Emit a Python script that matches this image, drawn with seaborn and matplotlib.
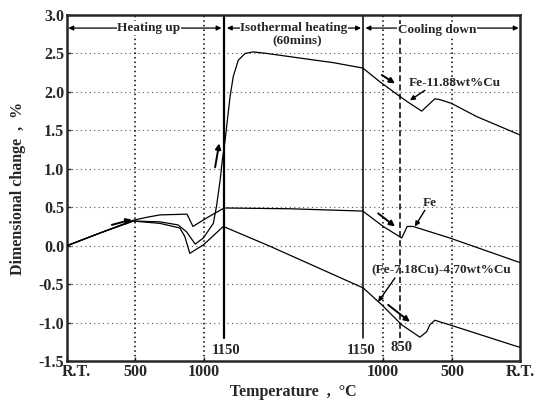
import matplotlib
matplotlib.use("Agg")
import matplotlib.pyplot as plt
import seaborn as sns
import pandas as pd
import numpy as np
from matplotlib.transforms import ScaledTranslation

# ---- data (x: normalised process position 0..100, y: dimensional change %) ----
fe_x = [0, 7.3, 14.6, 17.7, 20.5, 26.5, 27.8, 31.1, 34.7, 49.2, 65.3, 69.8, 73.9, 75.1, 76.4, 84.5, 100]
fe_y = [0.0, 0.165, 0.33, 0.37, 0.40, 0.41, 0.25, 0.37, 0.49, 0.48, 0.45, 0.25, 0.10, 0.25, 0.25, 0.10, -0.22]

cu12_x = [0, 7.3, 14.6, 20.5, 24.5, 26.4, 28.3, 30.1, 32.3, 33.0, 33.8, 34.3, 34.9, 36.0, 36.7, 37.8,
          39.3, 41.1, 44.1, 51.4, 58.8, 65.3, 69.1, 73.5, 75.7, 78.3, 79.4, 81.2, 82.3, 84.9, 90.4, 100]
cu12_y = [0.0, 0.165, 0.32, 0.31, 0.27, 0.18, 0.02, 0.10, 0.29, 0.51, 0.85, 1.12, 1.37, 1.94, 2.20, 2.41,
          2.50, 2.52, 2.50, 2.44, 2.38, 2.31, 2.13, 1.94, 1.85, 1.75, 1.81, 1.91, 1.90, 1.85, 1.68, 1.44]

cu7_x = [0, 7.3, 14.6, 20.5, 24.9, 26.0, 27.1, 30.1, 34.5, 44.9, 65.4, 69.5, 73.9, 77.9, 79.4, 80.1,
         81.2, 84.5, 99.3, 100]
cu7_y = [0.0, 0.165, 0.32, 0.29, 0.23, 0.12, -0.10, 0.01, 0.25, -0.01, -0.55, -0.77, -1.03, -1.19, -1.12, -1.03,
         -0.97, -1.03, -1.31, -1.32]

series_names = ["Fe", "Fe-11.88wt%Cu", "(Fe-7.18Cu)-4.70wt%Cu"]

xtick_pos = [0, 15.0, 30.2, 69.8, 85.0, 100]
xtick_labels = ["R.T.", "500", "1000", "1000", "500", "R.T."]
ytick_vals = [-1.5, -1.0, -0.5, 0.0, 0.5, 1.0, 1.5, 2.0, 2.5, 3.0]

heat_end = 34.7      # 1150 °C reached
iso_end = 65.3       # end of isothermal hold
t850 = 73.5
dotted_pos = [15.0, 30.2, 69.8, 85.0]

df = pd.concat([
    pd.DataFrame({"x": fe_x, "y": fe_y, "series": series_names[0]}),
    pd.DataFrame({"x": cu12_x, "y": cu12_y, "series": series_names[1]}),
    pd.DataFrame({"x": cu7_x, "y": cu7_y, "series": series_names[2]}),
], ignore_index=True)

sns.set_style("ticks")
plt.rcParams["font.family"] = ["Liberation Serif", "DejaVu Serif"]
plt.rcParams["font.weight"] = "bold"
plt.rcParams["axes.unicode_minus"] = False

fig = plt.figure(figsize=(5.47, 4.03), dpi=100)
ax = fig.add_axes([0.1225, 0.1042, 0.8281, 0.8586])

# grid lines
for yv in ytick_vals[1:-1]:
    ax.axhline(yv, color="#555555", lw=0.8, ls=(0, (1, 3)), zorder=0)
for xv in dotted_pos:
    ax.axvline(xv, color="black", lw=1.1, ls=(0, (1, 2)), zorder=1)
ax.plot([heat_end, heat_end], [-1.2, 3.0], color="black", lw=1.6, zorder=2)
ax.plot([iso_end, iso_end], [-1.2, 3.0], color="black", lw=1.1, zorder=2)
ax.plot([t850, t850], [-1.2, 3.0], color="black", lw=1.1, ls=(0, (4, 2)), zorder=2)

sns.lineplot(data=df, x="x", y="y", hue="series", units="series", estimator=None, sort=False,
             palette={n: "black" for n in series_names}, lw=0.9, legend=False, ax=ax, zorder=3)

ax.set_xlim(0, 100)
ax.set_ylim(-1.5, 3.0)
ax.set_yticks(ytick_vals)
ax.set_yticklabels([f"{v:.1f}" for v in ytick_vals])
ax.set_xticks(xtick_pos)
ax.set_xticklabels(xtick_labels)
ax.tick_params(direction="in", length=3, width=1, labelsize=11.5, pad=2)
for lab in ax.get_xticklabels():
    lab.set_fontweight("bold")
for lab in ax.get_yticklabels():
    lab.set_fontweight("bold")
first = ax.get_xticklabels()[0]
first.set_ha("left")
first.set_transform(first.get_transform() + ScaledTranslation(-4 / 72, 0, fig.dpi_scale_trans))

for s in ax.spines.values():
    s.set_linewidth(1.8)

ax.set_xlabel("Temperature  ,  °C", fontsize=11.5, fontweight="bold", labelpad=3)
ax.set_ylabel("Dimensional change  ,  %", fontsize=11.5, fontweight="bold", labelpad=9)

# header arrows
hy = 2.83
hdr = dict(arrowstyle="<|-|>", color="black", lw=0.9, mutation_scale=7, shrinkA=0, shrinkB=0)
ax.annotate("", xy=(0.3, hy), xytext=(heat_end - 0.6, hy), arrowprops=hdr)
ax.annotate("", xy=(heat_end + 0.6, hy), xytext=(iso_end - 0.4, hy), arrowprops=hdr)
ax.annotate("", xy=(iso_end + 0.6, hy), xytext=(99.7, hy), arrowprops=hdr)
tb = dict(facecolor="white", edgecolor="none", pad=0.5)
ax.text(18.1, hy, "Heating up", ha="center", va="center", fontsize=9.5, fontweight="bold", bbox=tb)
ax.text(50.1, hy, "Isothermal heating", ha="center", va="center", fontsize=9.5, fontweight="bold", bbox=tb)
ax.text(50.8, 2.67, "(60mins)", ha="center", va="center", fontsize=9.5, fontweight="bold")
ax.text(81.7, 2.80, "Cooling down", ha="center", va="center", fontsize=9.5, fontweight="bold", bbox=tb)

# curve labels with pointer arrows
pa = dict(arrowstyle="-|>", color="black", lw=1.0, mutation_scale=7, shrinkA=0, shrinkB=0)
ax.text(85.7, 2.12, series_names[1], ha="center", va="center", fontsize=9.5, fontweight="bold")
ax.annotate("", xy=(75.7, 1.89), xytext=(79.0, 2.02), arrowprops=pa)
ax.text(80.1, 0.56, series_names[0], ha="center", va="center", fontsize=9.5, fontweight="bold")
ax.annotate("", xy=(76.8, 0.25), xytext=(79.0, 0.46), arrowprops=pa)
ax.text(82.7, -0.32, series_names[2], ha="center", va="center", fontsize=9.5, fontweight="bold")
ax.annotate("", xy=(68.7, -0.73), xytext=(72.4, -0.42), arrowprops=pa)

# direction arrows
da = dict(arrowstyle="-|>", color="black", lw=1.4, mutation_scale=8, shrinkA=0, shrinkB=0)
ax.annotate("", xy=(14.3, 0.34), xytext=(9.9, 0.27), arrowprops=da)
ax.annotate("", xy=(33.6, 1.33), xytext=(32.7, 1.02), arrowprops=da)
ax.annotate("", xy=(72.4, 2.11), xytext=(69.5, 2.22), arrowprops=da)
ax.annotate("", xy=(72.4, 0.25), xytext=(68.7, 0.42), arrowprops=da)
ax.annotate("", xy=(75.7, -0.99), xytext=(70.9, -0.77), arrowprops=da)

# temperature marks inside the plot
ax.text(35.1, -1.36, "1150", ha="center", va="center", fontsize=10.5, fontweight="bold")
ax.text(64.9, -1.36, "1150", ha="center", va="center", fontsize=10.5, fontweight="bold")
ax.text(73.8, -1.33, "850", ha="center", va="center", fontsize=10.5, fontweight="bold")

fig.savefig("out.png", dpi=100)
